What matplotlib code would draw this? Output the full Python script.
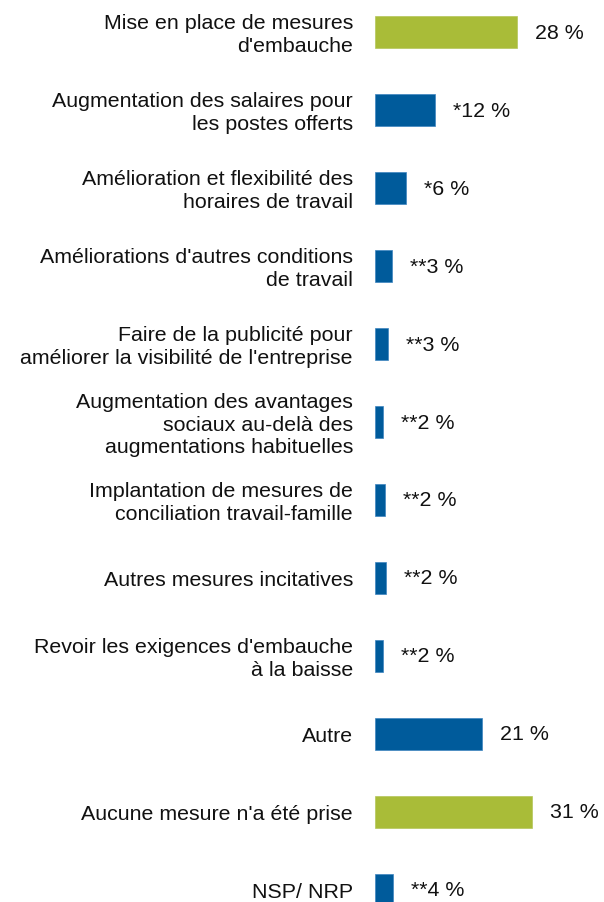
import matplotlib.pyplot as plt

plt.rcParams['font.family'] = ['Liberation Sans', 'DejaVu Sans']

categories = [
    "Mise en place de mesures\nd'embauche",
    "Augmentation des salaires pour\nles postes offerts",
    "Amélioration et flexibilité des\nhoraires de travail",
    "Améliorations d'autres conditions\nde travail",
    "Faire de la publicité pour\naméliorer la visibilité de l'entreprise",
    "Augmentation des avantages\nsociaux au-delà des\naugmentations habituelles",
    "Implantation de mesures de\nconciliation travail-famille",
    "Autres mesures incitatives",
    "Revoir les exigences d'embauche\nà la baisse",
    "Autre",
    "Aucune mesure n'a été prise",
    "NSP/ NRP",
]
values = [28, 11.8, 6.1, 3.3, 2.6, 1.6, 2.0, 2.1, 1.6, 21.2, 31, 3.6]
value_labels = ["28 %", "*12 %", "*6 %", "**3 %", "**3 %", "**2 %", "**2 %",
                "**2 %", "**2 %", "21 %", "31 %", "**4 %"]
highlight = [True, False, False, False, False, False, False, False, False,
             False, True, False]

green = "#a9bc38"
blue = "#005b9b"

W, H = 604, 903
fig = plt.figure(figsize=(W / 100, H / 100), dpi=100)
# axes starts at bar origin (x=375 px), 5.07 px per percent
ax = fig.add_axes([375 / W, 0, 40 * 5.07 / W, 1])
ax.set_xlim(0, 40)
step = 78.0
ax.set_ylim((H - 33) / step, -33 / step)

colors = [green if h else blue for h in highlight]
edges = ["#b4c65a" if h else "#3d85c0" for h in highlight]
y = list(range(len(values)))
ax.barh(y, values, height=32 / step, color=colors, edgecolor=edges,
        linewidth=0.5)

for i, (cat, v, lab) in enumerate(zip(categories, values, value_labels)):
    ax.annotate(cat, xy=(0, i), xytext=(-22 * 0.72, -2 * 0.72),
                textcoords="offset points",
                ha="right", va="center", multialignment="right",
                fontsize=15.4, color="#111111", linespacing=1.22,
                annotation_clip=False)
    ax.annotate(lab, xy=(v, i), xytext=(18 * 0.72, 0), textcoords="offset points",
                ha="left", va="center", fontsize=15.4, color="#111111",
                annotation_clip=False)

ax.axis("off")
fig.savefig("out.png", dpi=100)
